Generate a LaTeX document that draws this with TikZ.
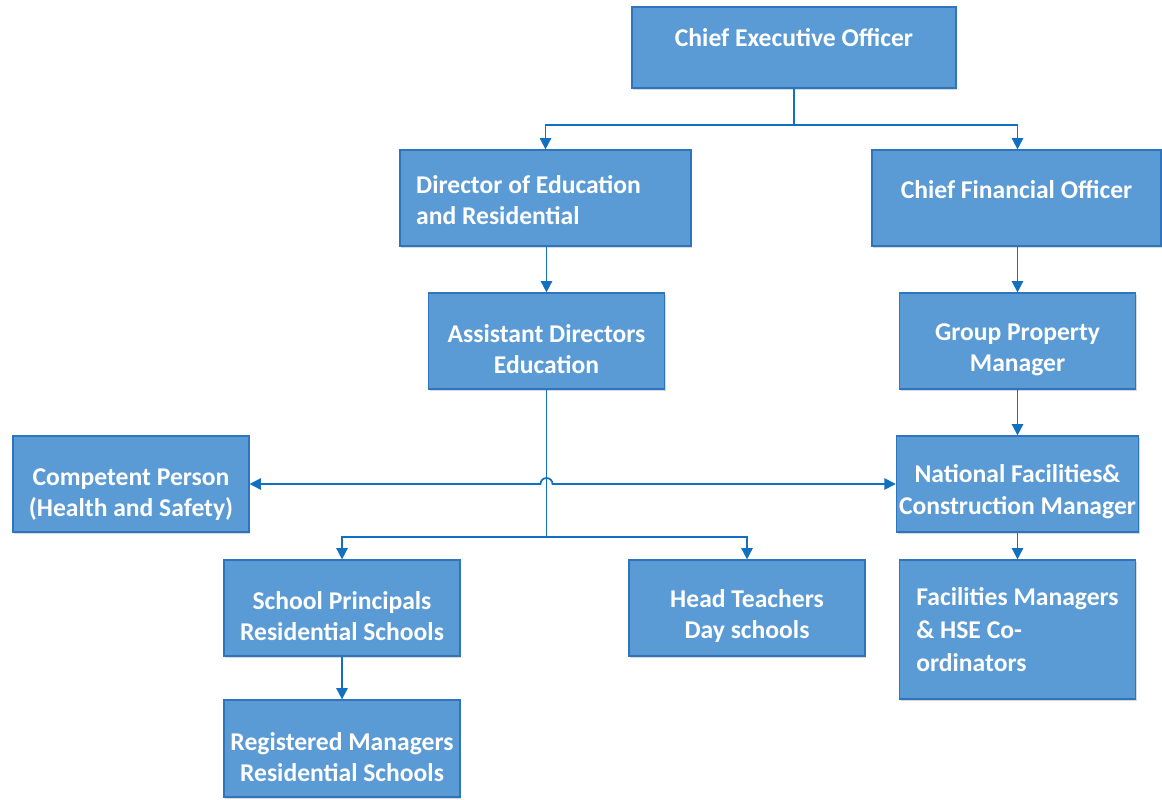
\documentclass[tikz,border=0pt]{standalone}
\usepackage{fontspec}
\setmainfont{Carlito}
\usepackage{xcolor}
\usepackage{tikz}
\usetikzlibrary{arrows.meta,calc,shadows}

\definecolor{boxfill}{RGB}{91,155,213}
\definecolor{boxedge}{RGB}{46,117,190}
\definecolor{linkblue}{RGB}{17,112,192}

% taller first line, pushes the label down in its box
\newcommand\droplabel[1][26pt]{\rule{0pt}{#1}}

\tikzset{
  orgbox/.style={draw=boxedge, line width=0.9pt, fill=boxfill, text=white,
    font=\fontsize{19.2}{23.5}\selectfont\bfseries, align=center,
    minimum width=176.5pt, minimum height=72pt, inner sep=2pt,
    drop shadow={shadow xshift=1pt, shadow yshift=-1.5pt, fill=black, opacity=0.15}},
  link/.style={draw=linkblue, line width=1.3pt, -{Triangle[length=8.5pt,width=8.5pt]}},
  duallink/.style={link, {Triangle[length=8.5pt,width=8.5pt]}-{Triangle[length=8.5pt,width=8.5pt]}}
}

\begin{document}
\begin{tikzpicture}[x=0.75pt,y=0.75pt,yscale=-1,xscale=1]
\useasboundingbox (0,0) rectangle (1162,799);

%Shape: Rectangle [top]
\draw (794,47.5) node [orgbox, minimum width=243pt, minimum height=60.75pt, text depth=15pt] (ceo) {Chief Executive Officer};
%Shape: Rectangle [second row]
\draw (545.5,198) node [orgbox, minimum width=218.25pt, text width=194pt, align=flush left] (dir) {\droplabel[16.5pt]Director of Education\\and Residential};
\draw (1016.5,198) node [orgbox, minimum width=216.75pt, text depth=13.5pt] (cfo) {Chief Financial Officer};
%Shape: Rectangle [third row]
\draw (546.5,341) node [orgbox] (asst) {\droplabel Assistant Directors\\Education};
\draw (1017.5,341) node [orgbox] (gpm) {\droplabel Group Property\\Manager};
%Shape: Rectangle [fourth row]
\draw (131,484) node [orgbox, minimum width=177pt] (comp) {\droplabel[28.5pt]Competent Person\\(Health and Safety)};
\draw (1017.5,484) node [orgbox] (natl) {\droplabel[25pt]National Facilities\&\\Construction Manager};
%Shape: Rectangle [fifth row]
\draw (342,608) node [orgbox, minimum width=177pt] (prin) {\droplabel School Principals\\Residential Schools};
\draw (747,608) node [orgbox, minimum width=177pt] (head) {\droplabel Head Teachers\\Day schools};
\draw (1017.5,629.5) node [orgbox, minimum height=104.25pt, align=left, font=\fontsize{19.2}{25}\selectfont\bfseries] (fac) {Facilities Managers\\\& HSE Co-\\ordinators};
%Shape: Rectangle [bottom]
\draw (342,748.5) node [orgbox, minimum width=177pt, minimum height=72.75pt] (reg) {\droplabel Registered Managers\\Residential Schools};

% Connectors
\coordinate (topbus) at (0,125);
\coordinate (lowbus) at (0,537);
\draw [link] (ceo.south) -- (ceo.south |- topbus) -| (dir.north);
\draw [link] (ceo.south |- topbus) -| (gpm.north |- cfo.north);
\draw [link] (dir.south) -- (dir.south -| asst.north) -- (asst.north);
\draw [link] (cfo.south -| gpm.north) -- (gpm.north);
\draw [link] (gpm.south) -- (natl.north);
\draw [link] (natl.south) -- (fac.north);
\draw [link] (asst.south) -- (asst.south |- lowbus) -| (prin.north);
\draw [link] (asst.south |- lowbus) -| (head.north);
\draw [link] (prin.south) -- (reg.north);
% Connector with line hop
\draw [duallink] (comp.east) -- ($(asst.south |- comp.east)+(-6,0)$) arc [start angle=180, end angle=360, radius=6] -- (natl.west);
\end{tikzpicture}
\end{document}
